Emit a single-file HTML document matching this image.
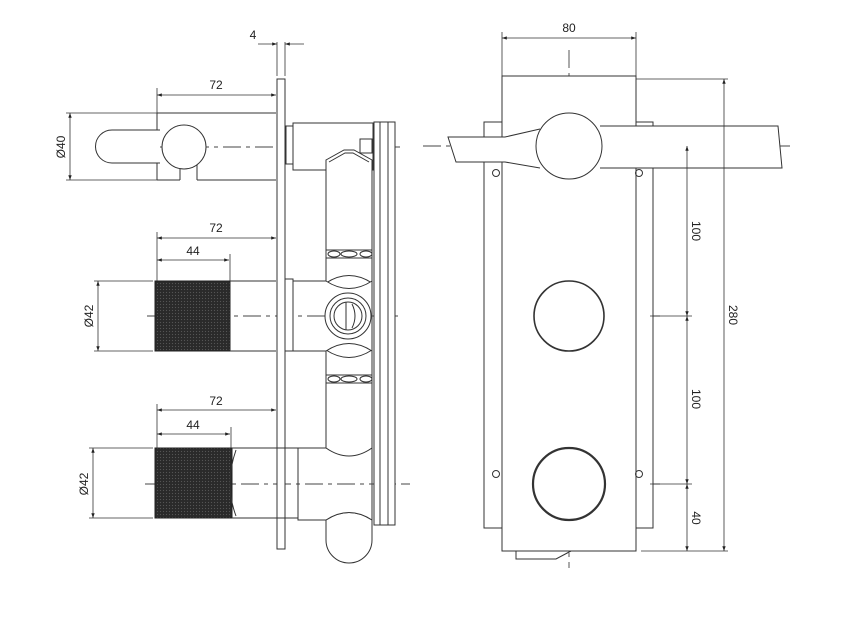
<!DOCTYPE html>
<html><head><style>body{margin:0;background:#fff}svg{display:block}text{font-family:"Liberation Sans",sans-serif;font-size:12px;fill:#222}</style></head><body>
<svg width="844" height="630" viewBox="0 0 844 630" xmlns="http://www.w3.org/2000/svg">
<defs>
<marker id="a" viewBox="0 0 10 10" refX="10" refY="5" markerWidth="9" markerHeight="6" orient="auto-start-reverse"><path d="M0,1.5L10,5L0,8.5z" fill="#222"/></marker>
<pattern id="k" width="3" height="3" patternUnits="userSpaceOnUse"><rect width="3" height="3" fill="#2a2a2a"/><circle cx="1.5" cy="1.5" r="0.6" fill="#555"/></pattern>
</defs>
<g stroke="#333" stroke-width="1" fill="none">
<!-- valve body (behind) -->
<path fill="#fff" d="M326,258H372V283Q349,268 326,283Z"/>
<path fill="#fff" d="M326,350Q349,365 372,350V375H326Z"/>
<path fill="#fff" d="M326,383H372V448Q349,465 326,448Z"/>
<path fill="#fff" d="M326,520Q349,505 372,520V540A23,23 0 0 1 326,540Z"/>
<rect x="326" y="250" width="46" height="8" fill="#fff"/>
<ellipse cx="334" cy="254" rx="6" ry="3" fill="#fff"/><ellipse cx="349" cy="254" rx="8" ry="3" fill="#fff"/><ellipse cx="366" cy="254" rx="6" ry="3" fill="#fff"/>
<rect x="326" y="375" width="46" height="8" fill="#fff"/>
<ellipse cx="334" cy="379" rx="6" ry="3" fill="#fff"/><ellipse cx="349" cy="379" rx="8" ry="3" fill="#fff"/><ellipse cx="366" cy="379" rx="6" ry="3" fill="#fff"/>
<path fill="#fff" d="M293,281H326Q349,296 372,281V351Q349,336 326,351H293Z"/>
<path fill="#fff" d="M298,448H326Q349,464 372,448V520Q349,505 326,520H298Z"/>
<!-- center lines -->
<g stroke-dasharray="18,5,4,5" stroke="#444" stroke-width="0.9">
<line x1="95" y1="147" x2="400" y2="147"/>
<line x1="147" y1="316" x2="400" y2="316"/>
<line x1="145" y1="484" x2="410" y2="484"/>
<line x1="423" y1="146" x2="790" y2="146"/>
<line x1="492" y1="316" x2="660" y2="316"/>
<line x1="484" y1="484" x2="660" y2="484"/>
<line x1="569" y1="50" x2="569" y2="568"/>
</g>
<!-- wall plate -->
<rect x="277" y="79" width="8" height="470" fill="#fff"/>
<!-- top handle -->
<path d="M157,113H276M157,180H180M197,180H276M157,113V180M180,162V180M197,162V180" fill="none"/>
<path d="M160,130H112a16.5,16.5 0 0 0 0,33H160" fill="#fff"/>
<circle cx="184" cy="147" r="22" fill="#fff"/>
<!-- middle handle -->
<rect x="155" y="281" width="75" height="70" fill="url(#k)" stroke="#222"/>
<path d="M230,281H276M230,351H276" fill="none"/>
<rect x="285" y="279" width="8" height="72" fill="#fff"/>
<!-- bottom handle -->
<rect x="155" y="448" width="77" height="70" fill="url(#k)" stroke="#222"/>
<path d="M232,448H298V518H232M236,450q-12,34 0,66" fill="none"/>
<!-- valve top block -->
<rect x="286" y="126" width="7" height="38" fill="#fff"/>
<path fill="#fff" d="M293,123H373V170H293Z"/>
<path fill="#fff" d="M326,170L326,160L344,150H354L372,160V250H326Z"/>
<path fill="none" d="M329,162L345,153H353L369,162"/>
<rect x="360" y="139" width="12" height="14" fill="#fff"/>
<circle cx="348" cy="316" r="23" fill="#fff"/><circle cx="348" cy="316" r="18" fill="none"/><circle cx="348" cy="316" r="14" fill="none"/>
<path d="M346,302V330M352,304q6,12 0,24" fill="none"/>
<!-- rails -->
<rect x="374" y="122" width="21" height="403" fill="#fff"/><line x1="380" y1="122" x2="380" y2="525"/><line x1="388" y1="122" x2="388" y2="525"/>
<!-- right view -->
<rect x="484" y="122" width="18" height="406" fill="#fff"/><rect x="636" y="122" width="17" height="406" fill="#fff"/>
<rect x="502" y="76" width="134" height="475" fill="#fff"/>
<circle cx="496" cy="173" r="3.5"/><circle cx="639" cy="173" r="3.5"/><circle cx="496" cy="474" r="3.5"/><circle cx="639" cy="474" r="3.5"/>
<path d="M600,126H778L782,168H600" fill="#fff"/>
<path d="M540,129L505,137H448L456,162H505L540,168" fill="#fff"/>
<circle cx="569" cy="146" r="33" fill="#fff"/>
<circle cx="569" cy="316" r="35" stroke-width="1.6"/>
<circle cx="569" cy="484" r="36" stroke-width="2.2"/>
<path d="M516,551v8h40l15,-8" fill="none"/>
<!-- dims -->
<g stroke="#333" stroke-width="0.8">
<line x1="157" y1="95" x2="276" y2="95" marker-start="url(#a)" marker-end="url(#a)"/><line x1="157" y1="88" x2="157" y2="113"/>
<line x1="157" y1="238" x2="276" y2="238" marker-start="url(#a)" marker-end="url(#a)"/><line x1="157" y1="232" x2="157" y2="281"/>
<line x1="157" y1="260" x2="229" y2="260" marker-start="url(#a)" marker-end="url(#a)"/><line x1="230" y1="254" x2="230" y2="281"/>
<line x1="157" y1="410" x2="276" y2="410" marker-start="url(#a)" marker-end="url(#a)"/><line x1="157" y1="404" x2="157" y2="448"/>
<line x1="157" y1="434" x2="230" y2="434" marker-start="url(#a)" marker-end="url(#a)"/><line x1="231" y1="427" x2="231" y2="448"/>
<line x1="70" y1="113" x2="70" y2="180" marker-start="url(#a)" marker-end="url(#a)"/><line x1="66" y1="113" x2="157" y2="113"/><line x1="66" y1="180" x2="157" y2="180"/>
<line x1="98" y1="281" x2="98" y2="351" marker-start="url(#a)" marker-end="url(#a)"/><line x1="94" y1="281" x2="153" y2="281"/><line x1="94" y1="351" x2="153" y2="351"/>
<line x1="93" y1="448" x2="93" y2="518" marker-start="url(#a)" marker-end="url(#a)"/><line x1="89" y1="448" x2="153" y2="448"/><line x1="89" y1="518" x2="153" y2="518"/>
<line x1="277" y1="42" x2="277" y2="76"/><line x1="285" y1="42" x2="285" y2="76"/>
<line x1="258" y1="44" x2="277" y2="44" marker-end="url(#a)"/><line x1="304" y1="44" x2="285" y2="44" marker-end="url(#a)"/>
<line x1="502" y1="38" x2="636" y2="38" marker-start="url(#a)" marker-end="url(#a)"/><line x1="502" y1="32" x2="502" y2="76"/><line x1="636" y1="32" x2="636" y2="76"/>
<line x1="636" y1="79" x2="728" y2="79"/><line x1="641" y1="551" x2="728" y2="551"/>
<line x1="724" y1="79" x2="724" y2="551" marker-start="url(#a)" marker-end="url(#a)"/>
<line x1="687" y1="146" x2="687" y2="316" marker-start="url(#a)" marker-end="url(#a)"/>
<line x1="687" y1="316" x2="687" y2="484" marker-start="url(#a)" marker-end="url(#a)"/>
<line x1="687" y1="484" x2="687" y2="551" marker-start="url(#a)" marker-end="url(#a)"/>
<line x1="650" y1="316" x2="692" y2="316"/><line x1="650" y1="484" x2="692" y2="484"/>
</g>
</g>
<g>
<text x="216" y="89" text-anchor="middle">72</text>
<text x="216" y="232" text-anchor="middle">72</text>
<text x="193" y="255" text-anchor="middle">44</text>
<text x="216" y="405" text-anchor="middle">72</text>
<text x="193" y="429" text-anchor="middle">44</text>
<text x="253" y="39" text-anchor="middle">4</text>
<text x="569" y="32" text-anchor="middle">80</text>
<text transform="translate(65,147) rotate(-90)" text-anchor="middle">Ø40</text>
<text transform="translate(93,316) rotate(-90)" text-anchor="middle">Ø42</text>
<text transform="translate(88,484) rotate(-90)" text-anchor="middle">Ø42</text>
<text transform="translate(692,231) rotate(90)" text-anchor="middle">100</text>
<text transform="translate(692,399) rotate(90)" text-anchor="middle">100</text>
<text transform="translate(692,518) rotate(90)" text-anchor="middle">40</text>
<text transform="translate(729,315) rotate(90)" text-anchor="middle">280</text>
</g>
</svg>
</body></html>
